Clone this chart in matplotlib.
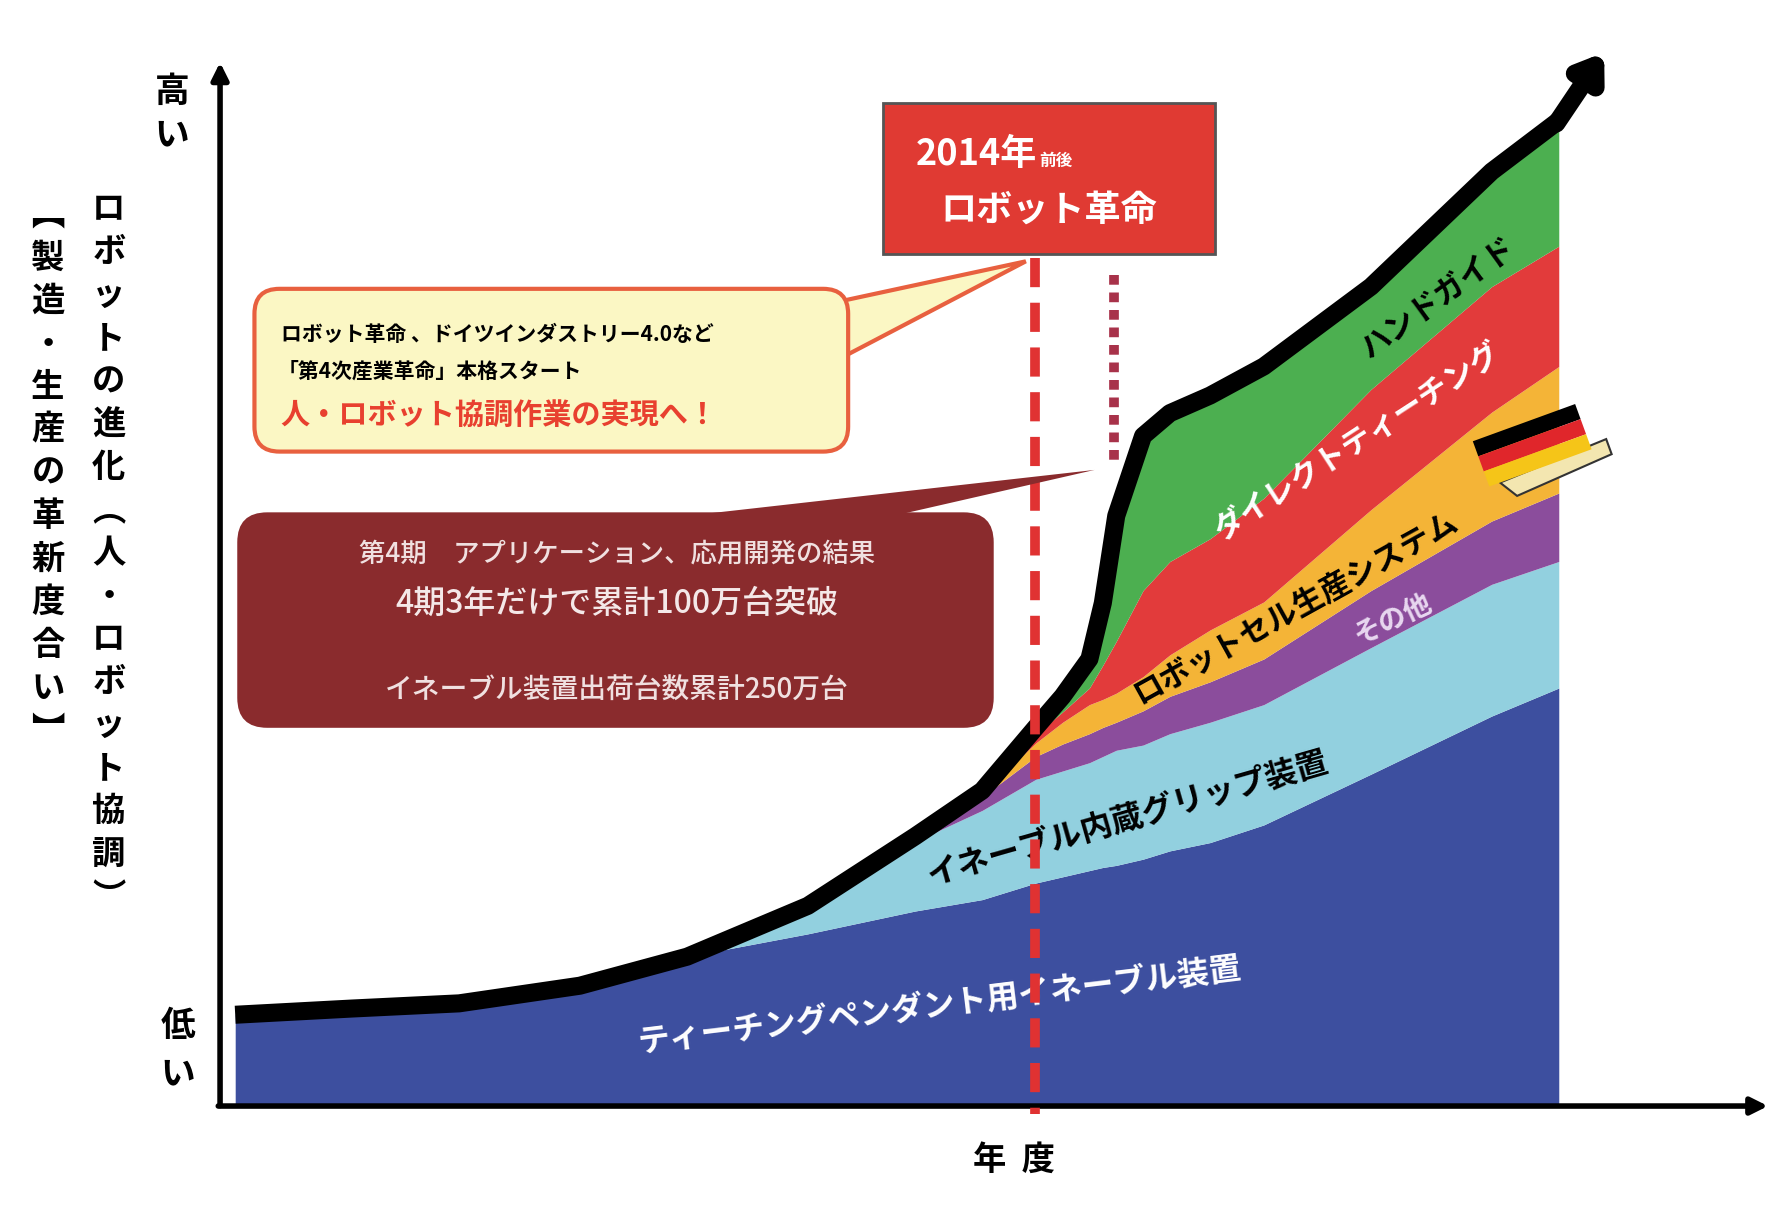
import matplotlib
matplotlib.use("Agg")
import matplotlib.pyplot as plt
import numpy as np
from matplotlib.patches import FancyBboxPatch, Polygon, Rectangle

plt.rcParams['font.family'] = ['Noto Sans CJK JP', 'DejaVu Sans']

# ---- data (relative progress, percent of axis) ----
x = [1.3, 10, 18, 27, 35, 44, 52, 57, 61, 63, 65, 66, 67, 69, 71, 74, 78, 86, 95, 100]
top_black = [8.8, 9.4, 9.9, 11.6, 14.4, 19.3, 26.0, 30.4, 36.5, 39.5, 43.1, 48.5, 56.9, 64.6, 66.8, 68.5, 71.3, 79.0, 90.1, 95.0]
top_red = [8.8, 9.4, 9.9, 11.6, 14.4, 19.3, 26.0, 30.4, 35.8, 38.0, 40.3, 42.5, 44.8, 49.7, 52.5, 54.7, 58.6, 69.1, 79.0, 82.9]
top_orange = [8.8, 9.4, 9.9, 11.6, 14.4, 19.3, 26.0, 30.2, 35.0, 37.0, 38.7, 39.2, 39.8, 41.4, 43.5, 45.9, 48.6, 57.5, 66.9, 71.3]
top_purple = [8.8, 9.4, 9.9, 11.6, 14.4, 19.3, 26.0, 29.8, 33.7, 34.9, 35.9, 36.5, 37.0, 38.1, 39.5, 40.9, 43.1, 49.7, 56.4, 59.1]
top_lblue = [8.8, 9.4, 9.9, 11.6, 14.4, 19.3, 25.5, 28.5, 31.5, 32.3, 33.1, 33.7, 34.3, 34.8, 35.9, 37.0, 38.7, 44.2, 50.3, 52.5]
top_blue = [8.8, 9.4, 9.9, 11.6, 14.4, 16.6, 18.8, 19.9, 21.5, 22.1, 22.7, 23.0, 23.2, 23.8, 24.6, 25.4, 27.1, 32.0, 37.6, 40.3]

layer_labels = ["ティーチングペンダント用イネーブル装置", "イネーブル内蔵グリップ装置", "その他",
                "ロボットセル生産システム", "ダイレクトティーチング", "ハンドガイド"]

S = 1788 / 1560.0
W, H = 1788, 1210
fig = plt.figure(figsize=(W / 100, H / 100), dpi=100)
fig.patch.set_facecolor('white')

x0, y0 = 190 * S, 965 * S
x1, y1 = 1360 * S, 60 * S
ax = fig.add_axes([x0 / W, 1 - y0 / H, (x1 - x0) / W, (y0 - y1) / H])
ax.set_xlim(0, 100)
ax.set_ylim(0, 100)
ax.axis('off')

zeros = np.zeros(len(x))
ax.fill_between(x, zeros, top_blue, color='#3d4f9f', lw=0)
ax.fill_between(x, top_blue, top_lblue, color='#92d0df', lw=0)
ax.fill_between(x, top_lblue, top_purple, color='#8b4d9c', lw=0)
ax.fill_between(x, top_purple, top_orange, color='#f4b437', lw=0)
ax.fill_between(x, top_orange, top_red, color='#e23b3b', lw=0)
ax.fill_between(x, top_red, top_black, color='#4caf50', lw=0)
ax.plot(x, top_black, color='black', lw=13, solid_capstyle='butt', solid_joinstyle='round', zorder=5)
ax.annotate('', xy=(103.5, 101.8), xytext=(x[-1] - 0.3, top_black[-1] - 0.5),
            arrowprops=dict(arrowstyle='-|>,head_width=0.9,head_length=1.3', color='black', lw=13),
            annotation_clip=False, zorder=6)

ov = fig.add_axes([0, 0, 1, 1])
ov.set_xlim(0, W)
ov.set_ylim(H, 0)
ov.axis('off')
ov.patch.set_alpha(0)

def P(xs, ys):
    return xs * S, ys * S

ov.annotate('', xy=P(1545, 965), xytext=P(188, 965),
            arrowprops=dict(arrowstyle='-|>,head_width=0.5,head_length=1.0', color='black', lw=4))
ov.annotate('', xy=P(192, 52), xytext=P(192, 967),
            arrowprops=dict(arrowstyle='-|>,head_width=0.5,head_length=1.0', color='black', lw=4))

ov.plot([903 * S, 903 * S], [225 * S, 972 * S], color='#e03232', lw=7, ls=(0, (3, 1.6)), zorder=8)
ov.plot([972 * S, 972 * S], [240 * S, 405 * S], color='#a8324a', lw=7, ls=(0, (1, 0.8)), zorder=8)

ov.add_patch(Rectangle(P(770, 90), 290 * S, 132 * S, fc='#e03a33', ec='#555555', lw=2, zorder=9))
ov.text(*P(905, 135), '2014年', color='white', fontsize=26, fontweight='bold', ha='right', va='center', zorder=10)
ov.text(*P(907, 140), '前後', color='white', fontsize=12, fontweight='bold', ha='left', va='center', zorder=10)
ov.text(*P(915, 183), 'ロボット革命', color='white', fontsize=26, fontweight='bold', ha='center', va='center', zorder=10)

ov.add_patch(Polygon([P(700, 270), P(895, 228), P(700, 330)], closed=True, fc='#fbf7c4', ec='#e8603f', lw=3, zorder=9))
ov.add_patch(FancyBboxPatch(P(222, 252), 518 * S, 142 * S, boxstyle='round,pad=0,rounding_size=25',
                            fc='#fbf7c4', ec='#e8603f', lw=3, zorder=9))
ov.plot([701 * S, 701 * S], [272 * S, 328 * S], color='#fbf7c4', lw=5, zorder=9.5)
ov.text(*P(245, 292), 'ロボット革命 、ドイツインダストリー4.0など', fontsize=15, fontweight='bold', va='center', zorder=10)
ov.text(*P(242, 324), '「第4次産業革命」本格スタート', fontsize=15, fontweight='bold', va='center', zorder=10)
ov.text(*P(245, 362), '人・ロボット協調作業の実現へ！', fontsize=21, fontweight='bold', color='#e8402f', va='center', zorder=10)

ov.add_patch(Polygon([P(600, 450), P(955, 410), P(780, 450)], closed=True, fc='#8a2b2d', ec='none', zorder=9))
ov.add_patch(FancyBboxPatch(P(207, 447), 660 * S, 188 * S, boxstyle='round,pad=0,rounding_size=30',
                            fc='#8a2b2d', ec='none', zorder=9))
ov.text(*P(538, 483), '第4期　アプリケーション、応用開発の結果', fontsize=19, fontweight='medium', color='#f0e0e0', ha='center', va='center', zorder=10)
ov.text(*P(538, 527), '4期3年だけで累計100万台突破', fontsize=23, fontweight='medium', color='#f4e8e8', ha='center', va='center', zorder=10)
ov.text(*P(538, 602), 'イネーブル装置出荷台数累計250万台', fontsize=20, fontweight='medium', color='#f0e0e0', ha='center', va='center', zorder=10)

fx, fy = 1285, 385
flag_cols = ['black', '#e0262b', '#f5c518']
ang = np.deg2rad(-20)
def rot(px, py):
    return (fx + px * np.cos(ang) - py * np.sin(ang)) * S, (fy + px * np.sin(ang) + py * np.cos(ang)) * S
for i, c in enumerate(flag_cols):
    ov.add_patch(Polygon([rot(0, i * 14), rot(95, i * 14), rot(95, (i + 1) * 14), rot(0, (i + 1) * 14)],
                         fc=c, ec='none', zorder=7))
ov.add_patch(Polygon([rot(10, 42), rot(110, 38), rot(110, 52), rot(20, 58)], fc='#f3e6b0', ec='#333333', lw=1.5, zorder=6.9))

ov.text(*P(820, 878), layer_labels[0], fontsize=23, color='white', rotation=7, ha='center', va='center', fontweight='bold', zorder=7)
ov.text(*P(985, 715), layer_labels[1], fontsize=23, color='black', rotation=16, ha='center', va='center', fontweight='bold', zorder=7)
ov.text(*P(1215, 540), layer_labels[2], fontsize=20, color='#e8d8f0', rotation=25, ha='center', va='center', fontweight='bold', zorder=7)
ov.text(*P(1130, 530), layer_labels[3], fontsize=22, color='black', rotation=29, ha='center', va='center', fontweight='bold', zorder=7)
ov.text(*P(1185, 385), layer_labels[4], fontsize=22, color='white', rotation=33, ha='center', va='center', fontweight='bold', zorder=7)
ov.text(*P(1255, 260), layer_labels[5], fontsize=22, color='black', rotation=36, ha='center', va='center', fontweight='bold', zorder=7)

def vtext(xs, ys, s, size, spacing):
    for i, ch in enumerate(s):
        ov.text(xs * S, (ys + i * spacing) * S, ch, fontsize=size, fontweight='bold', ha='center', va='center')

vtext(150, 80, '高い', 25, 38)
vtext(155, 895, '低い', 25, 42)
vtext(95, 183, 'ロボットの進化︵人・ロボット協調︶', 24, 37.5)
vtext(42, 188, '︻製造・生産の革新度合い︼', 24, 37.5)
ov.text(*P(885, 1012), '年  度', fontsize=24, fontweight='bold', ha='center', va='center')

fig.savefig('out.png', dpi=100)
